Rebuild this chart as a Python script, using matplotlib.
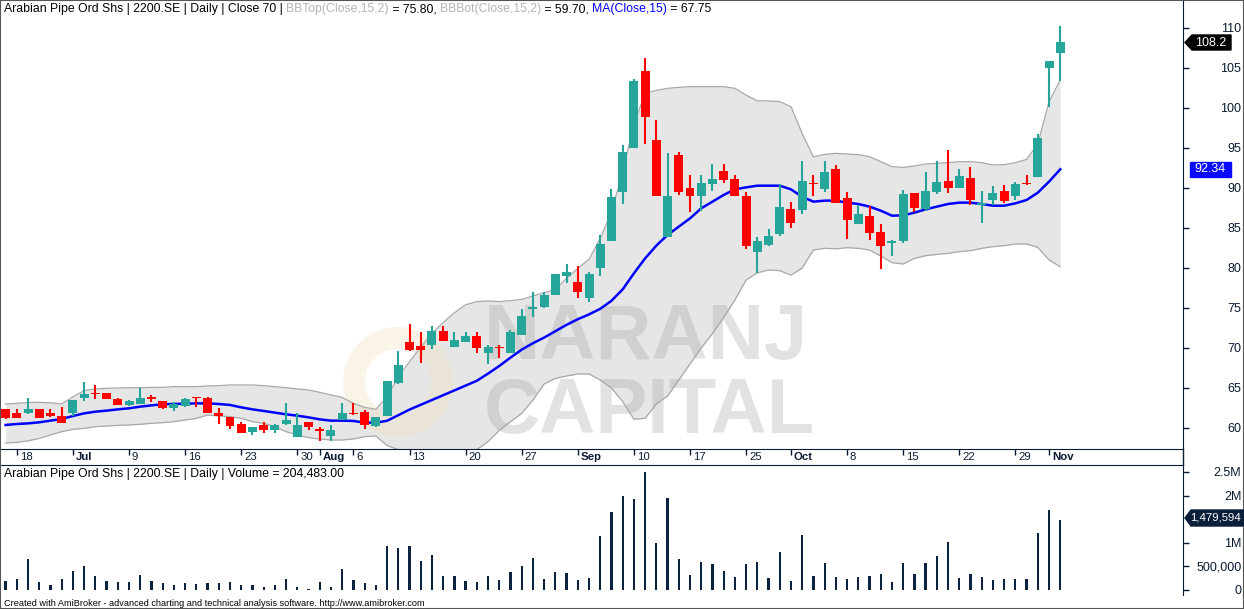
import matplotlib
matplotlib.use('Agg')
import matplotlib.pyplot as plt
import matplotlib.transforms as mtransforms
from matplotlib.patches import Polygon, Wedge
import numpy as np

plt.rcParams['font.family'] = ['Liberation Sans', 'DejaVu Sans']

# ---- data: one bar per trading day, 15 Jun 2017 .. 2 Nov 2017
opens = [62.33, 61.92, 61.83, 62.33, 61.92, 61.54, 61.83, 63.79, 64.42, 64.33,
         63.63, 62.88, 62.96, 63.83, 63.38, 62.54, 62.79, 63.83, 63.79, 61.92,
         61.33, 60.5, 59.46, 60.38, 59.75, 60.5, 58.92, 60.71, 59.83, 59.04,
         61.0, 61.92, 62.04, 60.29, 61.54, 65.58, 70.71, 70.29, 70.38, 72.13,
         70.17, 70.79, 71.5, 69.33, 70.1, 69.33, 71.63, 74.92, 75.17, 76.63,
         79.04, 78.29, 76.21, 79.96, 83.42, 89.54, 94.96, 104.63, 96.0, 83.92,
         94.13, 90.04, 89.04, 90.5, 92.13, 91.13, 89.04, 82.04, 82.88, 84.25,
         87.38, 87.25, 90.58, 89.88, 92.38, 88.71, 85.5, 86.5, 84.46, 83.17,
         83.38, 89.42, 87.38, 89.46, 90.88, 90.04, 91.29, 87.88, 88.5, 89.67,
         89.04, 90.67, 91.42, 104.96, 106.92]
highs = [62.4, 62.33, 63.71, 62.35, 62.33, 62.67, 63.5, 65.71, 65.38, 64.4,
         63.7, 63.5, 64.96, 64.12, 63.38, 63.21, 63.71, 63.83, 63.83, 62.46,
         61.33, 60.79, 60.17, 60.79, 60.5, 63.08, 61.83, 60.79, 60.17, 60.38,
         63.08, 63.08, 62.25, 61.42, 65.92, 69.63, 73.0, 71.96, 72.75, 72.75,
         71.96, 71.96, 71.96, 70.38, 70.38, 72.25, 74.88, 77.04, 76.96, 79.25,
         80.46, 80.29, 79.54, 84.13, 89.88, 95.38, 103.63, 106.29, 98.5, 94.33,
         94.46, 91.63, 91.63, 93.0, 93.0, 91.63, 89.46, 83.92, 84.88, 90.5,
         88.21, 93.38, 91.63, 93.38, 92.88, 89.54, 87.88, 87.75, 85.5, 83.5,
         89.75, 89.42, 92.04, 93.38, 94.75, 92.38, 92.67, 89.63, 90.25, 90.38,
         90.79, 91.63, 96.75, 105.88, 110.25]
lows = [61.08, 61.2, 61.71, 61.25, 61.42, 60.67, 61.54, 63.38, 63.58, 63.58,
        62.83, 62.79, 62.96, 63.21, 62.33, 62.13, 62.67, 62.67, 61.83, 60.46,
        59.88, 59.42, 59.13, 59.42, 59.42, 60.38, 58.92, 59.75, 58.42, 58.42,
        61.0, 61.63, 59.88, 60.17, 61.54, 65.5, 69.67, 68.08, 69.83, 70.92,
        70.17, 70.79, 69.42, 67.96, 68.79, 69.33, 71.63, 73.83, 75.04, 76.63,
        78.08, 76.29, 75.79, 79.04, 83.42, 88.0, 94.96, 95.5, 89.04, 83.92,
        89.13, 87.04, 87.17, 89.67, 90.67, 89.04, 82.38, 79.42, 82.79, 84.0,
        85.04, 86.71, 89.04, 89.54, 88.08, 83.63, 85.5, 83.5, 79.88, 81.5,
        83.17, 87.04, 87.13, 89.21, 89.42, 90.04, 87.88, 85.67, 87.88, 88.17,
        88.5, 90.38, 91.42, 100.08, 103.38]
closes = [61.29, 61.29, 62.33, 61.29, 61.54, 60.67, 63.5, 64.25, 64.25, 63.58,
          62.88, 63.38, 63.71, 63.58, 62.46, 63.0, 63.63, 63.71, 61.83, 61.5,
          60.29, 59.42, 60.08, 59.75, 60.38, 61.0, 60.38, 60.17, 59.67, 59.75,
          61.92, 61.75, 60.38, 61.42, 65.92, 67.88, 69.75, 69.75, 72.13, 70.92,
          71.0, 71.5, 69.96, 70.17, 70.0, 72.04, 74.0, 75.08, 76.63, 79.25,
          79.54, 76.96, 79.25, 83.0, 88.83, 94.46, 103.42, 98.92, 89.04, 89.04,
          89.54, 89.04, 90.58, 91.13, 91.0, 89.04, 82.79, 83.38, 84.0, 87.67,
          85.58, 90.88, 90.46, 91.96, 88.08, 86.0, 86.75, 84.42, 82.75, 83.38,
          89.25, 87.54, 89.63, 90.71, 90.04, 91.5, 88.5, 88.17, 89.42, 88.42,
          90.5, 90.5, 96.29, 105.88, 108.2]
# volume in millions of shares
volume = [0.198, 0.226, 0.657, 0.177, 0.106, 0.24, 0.41, 0.508, 0.297, 0.198,
          0.177, 0.177, 0.318, 0.198, 0.155, 0.106, 0.155, 0.127, 0.155, 0.155,
          0.177, 0.099, 0.106, 0.071, 0.099, 0.233, 0.056, 0.028, 0.177, 0.071,
          0.452, 0.212, 0.155, 0.099, 0.932, 0.897, 0.932, 0.614, 0.742, 0.297,
          0.297, 0.191, 0.169, 0.297, 0.204, 0.381, 0.508, 0.678, 0.233, 0.381,
          0.36, 0.212, 0.254, 1.144, 1.653, 1.99, 1.928, 2.5, 0.996, 1.949,
          0.657, 0.318, 0.593, 0.551, 0.403, 0.275, 0.551, 0.593, 0.254, 0.805,
          0.191, 1.165, 0.297, 0.572, 0.275, 0.233, 0.275, 0.297, 0.339, 0.169,
          0.572, 0.339, 0.572, 0.72, 1.017, 0.254, 0.339, 0.275, 0.212, 0.233,
          0.233, 0.233, 1.208, 1.695, 1.4796]
ma15 = [60.38, 60.5, 60.58, 60.71, 60.92, 61.13, 61.5, 61.83, 62.04, 62.17,
        62.33, 62.46, 62.67, 62.83, 62.96, 63.0, 63.04, 63.08, 63.08, 63.0,
        62.88, 62.58, 62.33, 62.13, 61.92, 61.71, 61.54, 61.33, 61.08, 60.92,
        60.92, 60.88, 60.67, 60.67, 60.9, 61.6, 62.3, 62.9, 63.5, 64.1,
        64.7, 65.3, 65.9, 66.8, 67.75, 68.8, 69.8, 70.6, 71.3, 72.1,
        72.9, 73.6, 74.2, 74.9, 75.9, 77.33, 79.33, 81.2, 82.8, 84.13,
        85.17, 86.2, 87.46, 88.29, 89.13, 89.83, 90.08, 90.29, 90.29, 90.29,
        89.83, 88.9, 88.29, 88.42, 88.42, 88.17, 88.0, 87.67, 87.17, 86.54,
        86.58, 86.92, 87.33, 87.67, 88.0, 88.17, 88.17, 88.0, 87.79, 87.79,
        88.08, 88.5, 89.42, 90.79, 92.34]
bb_top = [63.0, 63.08, 63.2, 63.2, 63.15, 63.0, 63.9, 64.67, 64.9, 64.96,
          65.0, 65.04, 65.04, 65.08, 65.08, 65.17, 65.17, 65.17, 65.25, 65.29,
          65.38, 65.38, 65.38, 65.29, 65.17, 65.04, 64.88, 64.75, 64.46, 64.13,
          63.83, 63.08, 62.58, 62.33, 63.9, 66.4, 68.3, 70.08, 71.83, 73.17,
          74.4, 75.4, 75.8, 75.88, 75.8, 75.92, 76.08, 76.5, 76.92, 77.33,
          78.7, 79.96, 81.08, 83.7, 87.0, 92.0, 98.0, 101.83, 102.2, 102.46,
          102.58, 102.67, 102.67, 102.67, 102.67, 102.46, 101.6, 100.9, 100.88, 100.8,
          100.17, 96.8, 93.9, 94.2, 94.33, 94.25, 94.17, 93.92, 93.3, 92.67,
          92.58, 92.75, 93.0, 93.08, 93.17, 93.29, 93.29, 93.17, 92.88, 92.92,
          93.17, 93.58, 95.5, 100.8, 103.5]
bb_bot = [58.13, 58.2, 58.4, 58.7, 59.13, 59.54, 59.83, 59.96, 60.17, 60.25,
          60.33, 60.38, 60.46, 60.58, 60.67, 60.79, 61.0, 61.2, 61.63, 61.5,
          61.42, 61.2, 60.79, 60.58, 60.17, 59.54, 59.13, 58.79, 58.63, 58.5,
          58.5, 58.63, 58.92, 59.0, 57.8, 57.3, 56.5, 56.0, 55.6, 55.5,
          55.5, 56.0, 57.3, 58.3, 59.7, 60.79, 61.83, 63.5, 65.5, 66.2,
          66.5, 66.75, 66.75, 66.0, 65.0, 63.3, 61.1, 61.2, 63.0, 64.0,
          66.0, 68.0, 70.0, 71.8, 73.8, 76.0, 78.5, 79.4, 79.75, 79.67,
          79.1, 80.0, 82.25, 82.46, 82.4, 82.54, 82.46, 82.25, 81.5, 80.67,
          80.5, 81.2, 81.54, 81.7, 81.83, 82.04, 82.17, 82.46, 82.67, 82.79,
          83.0, 83.0, 82.58, 81.0, 80.17]

date_ticks = [1, 6, 11, 16, 21, 26, 28, 31, 36, 41, 46, 51, 56, 61, 66, 70, 75, 80, 85, 90, 93]
date_labels = ['18', 'Jul', '9', '16', '23', '30', 'Aug', '6', '13', '20', '27',
               'Sep', '10', '17', '25', 'Oct', '8', '15', '22', '29', 'Nov']
price_ticks = [60, 65, 70, 75, 80, 85, 90, 95, 100, 105, 110]
vol_ticks = [0, 0.5, 1, 2, 2.5]
vol_tick_labels = ['0', '500,000', '1M', '2M', '2.5M']

GREEN = '#26a69a'
RED = '#ff0000'
AXIS = '#0b1b33'
W, H = 1244, 609


def fx(px):
    return px / W


def fy(py):
    return 1 - py / H


fig = plt.figure(figsize=(W / 100, H / 100), dpi=100)
ax1 = fig.add_axes([fx(1), fy(449), fx(1182), 448 / H])
ax2 = fig.add_axes([fx(1), fy(595), fx(1182), 130 / H])

x = np.arange(len(closes))
o = np.array(opens)
c = np.array(closes)
col = np.where(c >= o, GREEN, RED)

# bollinger band + moving average
ax1.fill_between(x, bb_bot, bb_top, color='#e6e6e6', lw=0, zorder=1)
ax1.plot(x, bb_top, color='#a8a8a8', lw=0.9, zorder=2)
ax1.plot(x, bb_bot, color='#a8a8a8', lw=0.9, zorder=2)
ax1.plot(x, ma15, color='#0000ff', lw=1.8, zorder=3)

# candles
ax1.vlines(x, lows, highs, colors=col, lw=1.5, zorder=4)
ax1.bar(x, np.maximum(np.abs(c - o), 0.14), bottom=np.minimum(o, c), width=0.8,
        color=col, lw=0, zorder=5)

# watermark behind the price marks (faint logo ring + name)
ax1.add_patch(Wedge((398, H - 382), 55, 0, 360, width=22,
                    transform=mtransforms.IdentityTransform(), color='#efe2bd',
                    alpha=0.35, lw=0, zorder=1.5))
ax1.text(fx(484), fy(359), 'NARANJ', transform=fig.transFigure, fontsize=56,
         fontweight='bold', color='#a0a0a0', alpha=0.3, zorder=1.5)
ax1.text(fx(484), fy(433), 'CAPITAL', transform=fig.transFigure, fontsize=56,
         fontweight='bold', color='#a0a0a0', alpha=0.3, zorder=1.5)

ax1.set_xlim(-0.41, 104.94)
ax1.set_ylim(57.375, 113.375)
ax1.set_xticks(date_ticks)
ax1.tick_params(axis='x', direction='out', length=4, width=1, color=AXIS, labelbottom=False)
ax1.yaxis.tick_right()
ax1.set_yticks(price_ticks)
ax1.tick_params(axis='y', direction='out', length=4, width=1, color=AXIS,
                labelsize=9, labelcolor=AXIS, pad=38)
for lab in ax1.get_yticklabels():
    lab.set_horizontalalignment('right')

trans = mtransforms.blended_transform_factory(ax1.transData, fig.transFigure)
for t, s in zip(date_ticks, date_labels):
    bold = s in ('Jul', 'Aug', 'Sep', 'Oct', 'Nov')
    ax1.text(t + 0.25, fy(457), s, transform=trans, fontsize=8.2, ha='left', va='center',
             color=AXIS, fontweight='bold' if bold else 'normal')

# volume
ax2.bar(x, volume, width=0.2, color='#0b2240', lw=0)
ax2.set_xlim(-0.41, 104.94)
ax2.set_ylim(-0.106, 2.648)
ax2.set_xticks([])
ax2.yaxis.tick_right()
ax2.set_yticks(vol_ticks)
ax2.set_yticklabels(vol_tick_labels)
ax2.tick_params(axis='y', direction='out', length=4, width=1, color=AXIS,
                labelsize=9, labelcolor=AXIS, pad=38)
for lab in ax2.get_yticklabels():
    lab.set_horizontalalignment('right')

for ax in (ax1, ax2):
    for side in ('left', 'top', 'bottom', 'right'):
        ax.spines[side].set_visible(False)
    ax.spines['right'].set_visible(True)
    ax.spines['right'].set_color(AXIS)
ax1.spines['bottom'].set_visible(True)
ax1.spines['bottom'].set_color(AXIS)
ax2.spines['top'].set_visible(True)
ax2.spines['top'].set_color(AXIS)
fig.add_artist(plt.Line2D([fx(1183), fx(1183)], [fy(449), fy(465)], color=AXIS, lw=1))

# titles (multi coloured header)
fig.canvas.draw()
renderer = fig.canvas.get_renderer()
pieces = [('Arabian Pipe Ord Shs | 2200.SE | Daily | Close 70 | ', 'black'),
          ('BBTop(Close,15,2)', '#b4b4b4'), (' = 75.80, ', 'black'),
          ('BBBot(Close,15,2)', '#b4b4b4'), (' = 59.70, ', 'black'),
          ('MA(Close,15)', '#0000ff'), (' = 67.75', 'black')]
xpos = fx(4)
for s, cc in pieces:
    t = fig.text(xpos, fy(9), s, fontsize=8.8, color=cc, va='center', ha='left')
    xpos = t.get_window_extent(renderer).x1 / W
fig.text(fx(4), fy(474), 'Arabian Pipe Ord Shs | 2200.SE | Daily | Volume = 204,483.00',
         fontsize=8.8, color='black', va='center')
fig.text(fx(4), fy(603), 'Created with AmiBroker - advanced charting and technical analysis '
         'software. http://www.amibroker.com', fontsize=6.6, color='black', va='center')

# last value labels on the axes
fig.add_artist(Polygon([(fx(1185), fy(42.5)), (fx(1192), fy(35)), (fx(1231), fy(35)),
                        (fx(1231), fy(50)), (fx(1192), fy(50))], closed=True,
                       transform=fig.transFigure, color='black', zorder=10))
fig.text(fx(1195), fy(42.5), '108.2', fontsize=9, color='white', va='center', zorder=11)
fig.add_artist(Polygon([(fx(1190), fy(162)), (fx(1231), fy(162)), (fx(1231), fy(177)),
                        (fx(1190), fy(177))], closed=True,
                       transform=fig.transFigure, color='#0a0aff', zorder=10))
fig.text(fx(1194), fy(169.5), '92.34', fontsize=9, color='white', va='center', zorder=11)
fig.add_artist(Polygon([(fx(1185), fy(518)), (fx(1191), fy(510)), (fx(1244), fy(510)),
                        (fx(1244), fy(526)), (fx(1191), fy(526))], closed=True,
                       transform=fig.transFigure, color='#0b1e3a', zorder=10))
fig.text(fx(1190), fy(518), '1,479,594', fontsize=8.2, color='white', va='center', zorder=11)

# outer frame
fig.add_artist(plt.Rectangle((0, 0), 1, 1, transform=fig.transFigure, fill=False,
                             edgecolor='#555555', lw=1.5))

fig.savefig('out.png', dpi=100)
